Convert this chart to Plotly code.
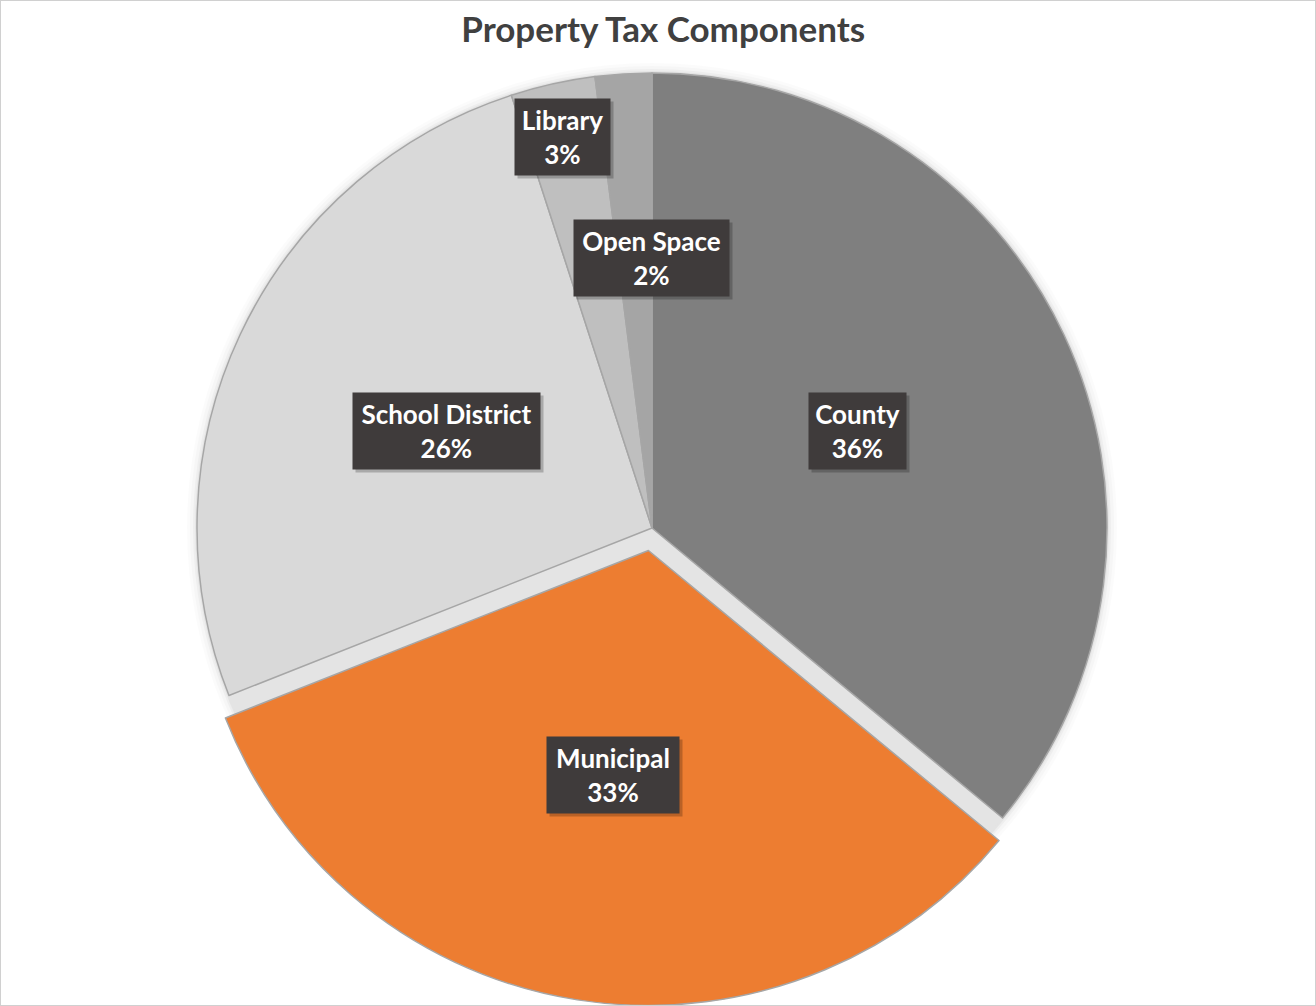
import math

import plotly.graph_objects as go

# Data
categories = ["County", "Municipal", "School District", "Library", "Open Space"]
shares = [36, 33, 26, 3, 2]
slice_colors = ["#7F7F7F", "#ED7D31", "#D9D9D9", "#BFBFBF", "#A5A5A5"]
pulls = [0, 0.05, 0, 0, 0]

# Label placement (fraction of radius along the slice bisector), small nudges, box widths
label_r = [0.50, 0.50, 0.50, 0.88, 0.59]
label_dx = [0, 0, 0, -2, 16]
label_dy = [0, 0, 0, 0, -2]
box_w = [97, 132, 187, 95, 155]
BOX_H = 76

W, H = 1316, 1006
CX, CY = 652, 528  # pie centre in px (from top-left)
R = 455            # pie radius in px
FONT = "Lato, 'Open Sans', sans-serif"


def domain_for(radius_px):
    """Square domain (paper fractions) centred on the pie centre."""
    return dict(
        x=[(CX - radius_px) / W, (CX + radius_px) / W],
        y=[(H - CY - radius_px) / H, (H - CY + radius_px) / H],
    )


def disc(radius_px, color):
    return go.Pie(
        values=[1],
        marker=dict(colors=[color], line=dict(width=0)),
        domain=domain_for(radius_px),
        textinfo="none",
        hoverinfo="skip",
        sort=False,
        showlegend=False,
    )


fig = go.Figure()

# soft shadow / plate behind the pie
for k, alpha in [(10, 0.015), (7, 0.02), (4, 0.03), (2, 0.04)]:
    fig.add_trace(disc(R + k, f"rgba(0,0,0,{alpha})"))
fig.add_trace(disc(R, "#E4E4E4"))

fig.add_trace(go.Pie(
    labels=categories,
    values=shares,
    marker=dict(colors=slice_colors, line=dict(color="#A6A6A6", width=1.5)),
    pull=pulls,
    sort=False,
    direction="clockwise",
    rotation=0,
    textinfo="none",
    hovertemplate="<b>%{label}</b><br>%{value}%<extra></extra>",
    domain=domain_for(R * (1 + max(pulls))),
    showlegend=False,
))

# Dark data-label boxes, placed along each slice bisector
total = sum(shares)
cum = 0
for i, (cat, val) in enumerate(zip(categories, shares)):
    theta = 2 * math.pi * (cum + val / 2) / total
    cum += val
    rr = (label_r[i] + pulls[i]) * R
    px = CX + rr * math.sin(theta) + label_dx[i]
    py = CY - rr * math.cos(theta) + label_dy[i]
    common = dict(
        x=px / W, y=1 - py / H, xref="paper", yref="paper",
        xanchor="center", yanchor="middle",
        showarrow=False, borderpad=0,
        width=box_w[i], height=BOX_H,
        align="center", valign="middle",
    )
    # drop shadow box (no text)
    fig.add_annotation(**common, text=" ", bgcolor="rgba(0,0,0,0.22)",
                       xshift=3, yshift=-3)
    fig.add_annotation(**common, text=f"{cat}<br>{val}%", bgcolor="#3F3B3B",
                       font=dict(family=FONT, size=26, color="white", weight=700))

fig.update_layout(
    width=W,
    height=H,
    margin=dict(t=0, b=0, l=0, r=0),
    title=dict(
        text="Property Tax Components",
        x=0.504, xanchor="center",
        y=1 - 30 / H, yref="container", yanchor="middle",
        font=dict(family=FONT, size=35, color="#404040", weight=700),
    ),
    paper_bgcolor="white",
    plot_bgcolor="white",
    shapes=[dict(type="rect", xref="paper", yref="paper",
                 x0=0, y0=0, x1=1, y1=1,
                 line=dict(color="#D0D0D0", width=2))],
)

fig.write_html("out.html", config={"displayModeBar": False},
               post_script="document.body.style.margin='0';")
